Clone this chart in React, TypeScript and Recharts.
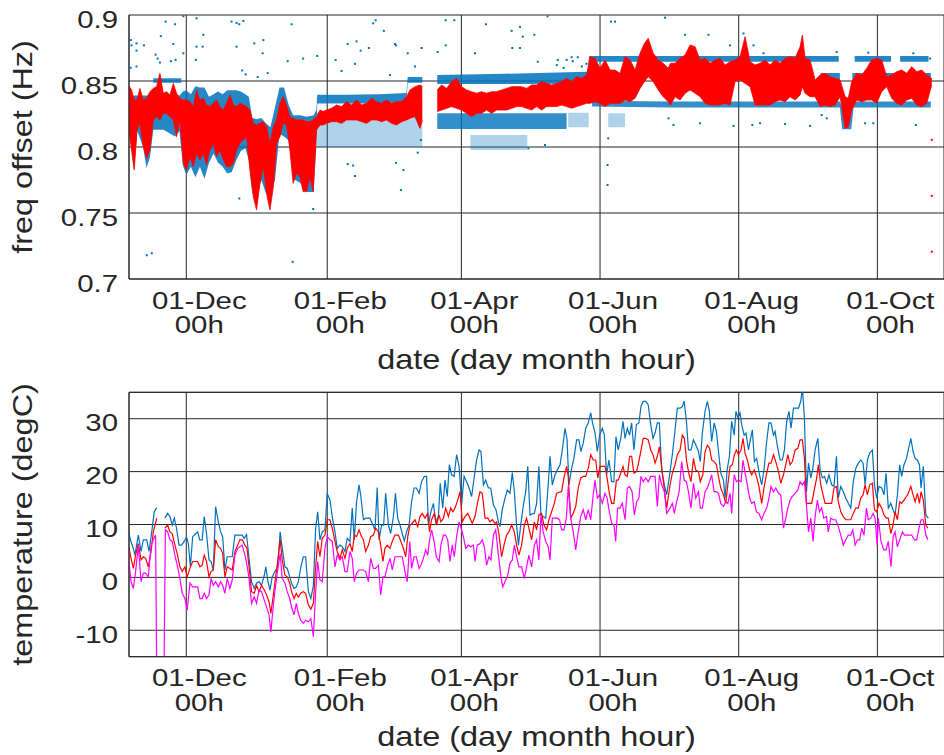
import React from 'react';
import { ComposedChart, Line, Area, Scatter, XAxis, YAxis, CartesianGrid, ReferenceLine } from 'recharts';

// x values are days counted from 01-Dec 00h
const monthTicks = [0, 62, 121, 182, 243, 304];
const monthLabels = ['01-Dec', '01-Feb', '01-Apr', '01-Jun', '01-Aug', '01-Oct'];
const hourLabel = '00h';
const dayDomain = [-25.2, 333.3];

const freqTicks = [0.7, 0.75, 0.8, 0.85, 0.9];
const freqTickLabels = ['0.7', '0.75', '0.8', '0.85', '0.9'];
const tempTicks = [-10, 0, 10, 20, 30];
const tempTickLabels = ['-10', '0', '10', '20', '30'];

type Row = [number, number | null, number | null];

// red: spread of the filtered frequency offset [day, low, high]
const redBand: Row[] = [
  [-25.5, 0.8179, 0.847], [-24.1, 0.7977, 0.8432], [-22.9, 0.7826, 0.8356], [-21.7, 0.8129, 0.8356],
  [-20.4, 0.8179, 0.8444], [-18.9, 0.8003, 0.8356], [-17.5, 0.7914, 0.8369], [-16.0, 0.7977, 0.8419],
  [-14.5, 0.8205, 0.8444], [-13.1, 0.823, 0.8457], [-11.6, 0.8205, 0.8558], [-10.1, 0.8255, 0.8407],
  [-8.7, 0.8255, 0.8419], [-7.2, 0.823, 0.8394], [-5.7, 0.8205, 0.8482], [-4.3, 0.8078, 0.8407],
  [-2.8, 0.8205, 0.8369], [-1.3, 0.7876, 0.8356], [0.1, 0.7826, 0.8356], [1.6, 0.7927, 0.8343],
  [3.1, 0.7851, 0.8306], [4.5, 0.7952, 0.8432], [6.0, 0.7902, 0.8356], [7.5, 0.7952, 0.8369],
  [8.9, 0.7864, 0.8318], [10.4, 0.7977, 0.8306], [11.9, 0.8028, 0.8331], [13.3, 0.7927, 0.8356],
  [14.8, 0.7977, 0.8306], [16.3, 0.7902, 0.828], [17.7, 0.7851, 0.8331], [19.2, 0.7851, 0.8394],
  [20.7, 0.7876, 0.8318], [22.1, 0.7977, 0.8306], [23.6, 0.8028, 0.8331], [25.1, 0.8053, 0.8318],
  [26.5, 0.8078, 0.8306], [28.0, 0.7826, 0.828], [29.5, 0.7624, 0.8179], [30.9, 0.7523, 0.8167],
  [32.4, 0.7725, 0.8179], [33.9, 0.7851, 0.8192], [35.3, 0.7649, 0.8154], [36.8, 0.7523, 0.8028],
  [38.3, 0.7699, 0.8154], [39.7, 0.8028, 0.8205], [41.2, 0.8078, 0.8331], [42.6, 0.8179, 0.8381],
  [44.1, 0.8167, 0.8318], [45.6, 0.7977, 0.823], [47.0, 0.7725, 0.8217], [48.5, 0.7801, 0.8205],
  [50.0, 0.7775, 0.8205], [51.4, 0.7662, 0.8205], [52.9, 0.7662, 0.8192], [54.4, 0.7775, 0.8192],
  [55.8, 0.7662, 0.8205], [57.3, 0.8129, 0.823], [58.8, 0.8167, 0.828], [60.2, 0.8167, 0.8268],
  [61.7, 0.8179, 0.828], [63.9, 0.8192, 0.8293], [66.1, 0.8192, 0.8318], [68.3, 0.8179, 0.8306],
  [70.5, 0.8205, 0.8343], [72.7, 0.8205, 0.8318], [74.9, 0.8205, 0.8356], [77.1, 0.8192, 0.8318],
  [79.3, 0.8179, 0.8331], [81.5, 0.8205, 0.8369], [83.7, 0.8205, 0.8343], [85.9, 0.8192, 0.8331],
  [88.1, 0.8205, 0.8356], [90.3, 0.8179, 0.8331], [92.5, 0.8167, 0.8343], [94.7, 0.8192, 0.8343],
  [96.9, 0.8205, 0.8381], [98.4, 0.8217, 0.8432], [100.6, 0.823, 0.8457], [102.8, 0.8141, 0.847],
  [103.8, 0.82, 0.846], [107, null, null],
  [110.4, 0.8268, 0.8432], [112.3, 0.828, 0.847], [114.5, 0.8293, 0.8444], [116.7, 0.8306, 0.8495],
  [118.9, 0.8293, 0.852], [121.1, 0.828, 0.8457], [123.3, 0.8255, 0.8432], [125.5, 0.823, 0.8419],
  [127.7, 0.8255, 0.8407], [129.9, 0.8255, 0.8419], [132.1, 0.828, 0.8407], [134.3, 0.8255, 0.8419],
  [136.5, 0.828, 0.8419], [138.7, 0.828, 0.8432], [140.9, 0.828, 0.8444], [143.1, 0.8293, 0.8457],
  [145.3, 0.8306, 0.8457], [147.5, 0.8306, 0.8457], [149.7, 0.8293, 0.8444], [151.9, 0.828, 0.847],
  [154.1, 0.8306, 0.847], [156.3, 0.828, 0.8495], [158.5, 0.8306, 0.8482], [160.7, 0.8306, 0.847],
  [162.9, 0.8306, 0.8482], [165.1, 0.8318, 0.8495], [167.3, 0.8306, 0.852], [169.5, 0.8293, 0.8495],
  [171.7, 0.8306, 0.8533], [173.9, 0.8318, 0.852], [176.1, 0.8331, 0.8545], [177.6, 0.8331, 0.8684],
  [179.8, 0.8343, 0.8672], [182.0, 0.8331, 0.8596], [184.2, 0.8306, 0.8659], [186.4, 0.8331, 0.8583],
  [188.6, 0.8331, 0.8583], [190.8, 0.8331, 0.8558], [193.0, 0.8356, 0.8684], [195.2, 0.8343, 0.8659],
  [197.4, 0.8369, 0.8583], [199.6, 0.8444, 0.871], [201.5, 0.8495, 0.8785], [203.2, 0.8533, 0.8823],
  [205.4, 0.8495, 0.871], [207.6, 0.8432, 0.8659], [209.8, 0.8381, 0.8634], [212.0, 0.8343, 0.8596],
  [213.0, 0.8318, 0.8634], [215.0, 0.8381, 0.8634], [217.2, 0.8356, 0.8672], [219.4, 0.8407, 0.8697],
  [221.6, 0.8432, 0.8773], [223.8, 0.8407, 0.876], [226.0, 0.8381, 0.8659], [228.2, 0.8331, 0.8672],
  [230.4, 0.8318, 0.8634], [232.6, 0.8318, 0.8659], [234.8, 0.8318, 0.8672], [237.0, 0.8331, 0.8621],
  [239.2, 0.8318, 0.8646], [241.4, 0.8495, 0.8659], [243.6, 0.8508, 0.8684], [245.8, 0.8482, 0.8836],
  [248.0, 0.8457, 0.8646], [250.2, 0.8318, 0.8621], [252.4, 0.8318, 0.8634], [254.6, 0.8318, 0.8659],
  [256.8, 0.8318, 0.8621], [259.0, 0.8343, 0.8659], [261.2, 0.8356, 0.8634], [263.4, 0.8343, 0.8672],
  [265.6, 0.8381, 0.8684], [267.8, 0.8356, 0.8672], [270.0, 0.8394, 0.876], [271.0, 0.8457, 0.8848],
  [272.2, 0.8407, 0.8672], [274.4, 0.8381, 0.8659], [276.6, 0.8381, 0.8508], [278.8, 0.8306, 0.8545],
  [281.0, 0.8318, 0.8558], [283.2, 0.8306, 0.8533], [285.4, 0.8318, 0.852], [287.6, 0.8381, 0.8508],
  [289.8, 0.8141, 0.8381], [291.2, 0.8154, 0.8369], [292.7, 0.828, 0.8495], [294.9, 0.8356, 0.8558],
  [297.1, 0.8343, 0.8545], [299.3, 0.8356, 0.8596], [301.5, 0.8356, 0.8659], [303.7, 0.8331, 0.8672],
  [305.9, 0.8419, 0.8659], [308.1, 0.8457, 0.8533], [310.3, 0.8369, 0.8545], [312.5, 0.8331, 0.8571],
  [314.7, 0.8318, 0.8583], [316.9, 0.8356, 0.8558], [319.1, 0.8369, 0.8609], [321.3, 0.8318, 0.8571],
  [323.5, 0.8306, 0.8583], [325.7, 0.8331, 0.8545], [327.9, 0.847, 0.852],
];

// blue: dense parts of the raw measurements [day, low, high]
const blueDense: Row[] = [
  [-25.5, 0.814, 0.839], [-24, 0.8, 0.839], [-23, 0.783, 0.839], [-21.5, 0.812, 0.839], [-19, 0.8, 0.839],
  [-17.5, 0.784, 0.839], [-16, 0.792, 0.839], [-14.5, 0.813, 0.84], [-10, 0.813, 0.839], [-5, 0.808, 0.839],
  [-3, 0.812, 0.839], [-1.5, 0.786, 0.842], [0, 0.779, 0.843], [2, 0.785, 0.84], [4, 0.777, 0.846],
  [6, 0.785, 0.845], [8, 0.776, 0.845], [10, 0.788, 0.838], [12, 0.795, 0.84], [14, 0.788, 0.842],
  [16, 0.785, 0.84], [18, 0.78, 0.843], [20, 0.781, 0.843], [22, 0.79, 0.843], [24, 0.797, 0.842],
  [26, 0.799, 0.84], [27.5, 0.79, 0.838], [29, 0.765, 0.822], [31, 0.762, 0.821], [33, 0.775, 0.822],
  [35, 0.765, 0.818], [37, 0.762, 0.815], [39, 0.775, 0.83], [41, 0.81, 0.845], [43, 0.808, 0.845],
  [45, 0.805, 0.832], [47, 0.776, 0.824], [50, 0.773, 0.824], [53, 0.766, 0.823], [56, 0.766, 0.824],
  [57.2, 0.8, 0.828], [57.6, 0.833, 0.8395], [70, 0.833, 0.8395], [85, 0.833, 0.84], [96.8, 0.834, 0.841],
  [97.4, 0.8487, 0.853], [103.8, 0.8487, 0.853], [107, null, null],
  [110.4, 0.8477, 0.8545], [140, 0.8477, 0.8555], [176.5, 0.848, 0.857], [177.2, 0.8646, 0.869],
  [212, 0.8646, 0.869], [287, 0.8646, 0.869], [290, null, null], [294, 0.8646, 0.869], [310, 0.8646, 0.869],
  [312, null, null], [314, 0.8646, 0.869], [326.5, 0.8646, 0.869],
];

const blueLowBand: Row[] = [
  [110.4, 0.8136, 0.8255], [167.3, 0.8136, 0.8255], [172, null, null],
  [178.5, 0.8306, 0.835], [213, 0.83, 0.8345], [287.5, 0.83, 0.8345], [288.5, 0.8135, 0.83],
  [292.5, 0.8135, 0.83], [293.5, 0.83, 0.8345], [327.5, 0.83, 0.8345],
];

const blueMidBand: Row[] = [
  [-14.5, 0.8487, 0.852], [-2.2, 0.8487, 0.852], [0, null, null],
  [279, 0.8495, 0.856], [287.5, 0.8495, 0.856], [290, null, null], [293, 0.8495, 0.856], [327.5, 0.8495, 0.856],
];

const blueCloud: Row[] = [
  [57.5, 0.8, 0.826], [92, 0.8, 0.828], [103.8, 0.8, 0.835], [107, null, null],
  [125, 0.7977, 0.809], [150, 0.7977, 0.809], [155, null, null],
  [168, 0.815, 0.826], [177, 0.815, 0.826], [180, null, null],
  [185.6, 0.815, 0.8255], [193, 0.815, 0.8255],
];

const blueOutliers: [number, number][] = [
  [-24.4, 0.881], [-24.1, 0.877], [-21.9, 0.8785], [-18.6, 0.877], [-21.9, 0.873], [-9.1, 0.895], [-5.0, 0.893],
  [-11.2, 0.884], [-5.7, 0.878], [-13.5, 0.87], [-12.6, 0.867], [-11.6, 0.864], [-6.8, 0.865], [-4.7, 0.866],
  [-1.3, 0.871], [-1.3, 0.899], [-24.5, 0.86], [-21.9, 0.861], [4.2, 0.866], [4.5, 0.876], [7.2, 0.876],
  [7.5, 0.885], [4.5, 0.8975], [19.9, 0.895], [22.1, 0.894], [23.3, 0.893], [25.1, 0.8955], [29.9, 0.8785],
  [33.9, 0.881], [33.6, 0.871], [22.1, 0.876], [24.6, 0.858], [26.1, 0.855], [31.4, 0.853], [35.8, 0.856],
  [44.6, 0.865], [46.3, 0.893], [51.4, 0.867], [57.6, 0.869], [65.7, 0.866], [68.3, 0.8576], [71.0, 0.878],
  [74.9, 0.88], [74.2, 0.863], [76.7, 0.873], [80.3, 0.875], [82.2, 0.8937], [83.3, 0.896], [86.9, 0.888],
  [91.8, 0.878], [89.6, 0.8545], [74.2, 0.778], [71.0, 0.787], [73.4, 0.786], [55.8, 0.753], [23.3, 0.761],
  [-17.4, 0.718], [-15.2, 0.7195], [46.8, 0.713],
  [92.2, 0.877], [97.4, 0.871], [100.6, 0.861], [103.5, 0.875], [110.6, 0.872], [114.1, 0.877], [114.1, 0.896],
  [117.9, 0.896], [127.0, 0.871], [131.8, 0.893], [143.1, 0.888], [146.8, 0.891], [148.0, 0.8836], [146.8, 0.875],
  [143.4, 0.875], [153.1, 0.885], [158.9, 0.899], [154.6, 0.8646], [163.4, 0.866], [167.3, 0.866], [169.5, 0.868],
  [172.2, 0.868], [163, 0.862], [166, 0.86], [170, 0.865], [174, 0.861], [176, 0.863], [186.8, 0.895],
  [188.6, 0.895], [185.6, 0.8066], [185.3, 0.7864], [185.3, 0.7712], [92.2, 0.788], [95.5, 0.7826],
  [94.4, 0.7674], [101.8, 0.7957], [103.2, 0.8053], [157.8, 0.8015], [150.5, 0.799],
  [210.6, 0.898], [219.4, 0.885], [229.7, 0.885], [239.2, 0.877], [245.1, 0.886], [249.5, 0.877], [253.9, 0.871],
  [286.1, 0.872], [300.0, 0.8715], [319.8, 0.871], [327.2, 0.867], [212.1, 0.8217], [214.3, 0.8167],
  [226.0, 0.818], [240.7, 0.816], [249.0, 0.8167], [252.4, 0.818], [263.4, 0.8174], [274.4, 0.816],
  [279.5, 0.8242], [281.7, 0.8217], [298.6, 0.818], [302.2, 0.818], [320.9, 0.8167],
];

const redStray: [number, number][] = [[327.9, 0.8055], [327.9, 0.763], [327.9, 0.7207]];

// daily temperatures [day, degC]
const tempMax: [number, number | null][] = [
  [-25.5, 9.6], [-24.8, 7.4], [-23.3, 5.5], [-22.6, 4.2], [-21.1, 8], [-19.9, 4.9], [-18.9, 7.1], [-17.4, 7.1],
  [-16.4, 4.9], [-15.2, 8.6], [-14.1, 12.4], [-13.0, 13.2], [-11, null], [-9.4, 11.2], [-8.2, 12.1], [-7.2, 11.5],
  [-6.2, 9.9], [-5.3, 11.2], [-4.3, 9.3], [-3.2, 6.1], [-2.1, 6.1], [-0.9, 6.8], [0.1, 7.7], [0.9, 6.4], [1.8, 2],
  [2.8, 7.7], [3.8, 8.1], [5.0, 8.6], [5.9, 7.1], [7.0, 7.1], [7.9, 11.5], [8.9, 8.3], [10.0, 3.3], [10.9, 3],
  [11.9, 1.4], [12.9, 13.4], [14.1, 10.5], [15.1, 8.6], [16.0, 7.7], [17.0, 1.4], [18.0, 3.9], [19.2, 3.9],
  [20.2, 3.9], [21.4, 8], [22.9, 8], [24.6, 8], [25.5, 7.4], [26.5, 8.1], [27.6, 3.6], [28.7, -0.8], [29.9, -2.1],
  [30.9, -1.1], [32.0, -0.8], [33.1, -1.5], [34.3, 0.4], [35.0, 2], [35.8, -0.5], [36.8, -2.4], [37.8, 0.1],
  [39.0, 1.1], [40.2, 2], [41.3, 8.6], [42.2, 5.5], [43.4, 2], [44.4, 1.7], [45.5, 0.1], [46.3, -1.1],
  [47.4, -2.1], [48.4, -1.8], [49.3, -0.8], [50.4, 2], [51.5, 3.9], [52.5, 3.9], [53.7, -2.7], [54.8, -4],
  [55.9, -1.5], [56.9, 9.3], [57.8, 12.4], [58.8, 7.1], [59.8, 8.6], [61.0, 9], [62.0, 15.9], [63.2, 14.6],
  [64.2, 11.5], [65.4, 8.6], [66.4, 5.5], [67.6, 6.1], [68.6, 5.8], [69.8, 4.9], [70.8, 7.4], [72.0, 6.8],
  [73.0, 13.1], [73.9, 7.1], [74.9, 14.3], [76.0, 17.5], [76.8, 15.3], [77.9, 10.9], [78.9, 11.2], [80.8, 11.2],
  [81.8, 10.2], [83.0, 9], [84.0, 17], [84.8, 7.1], [85.9, 9.9], [86.8, 9.9], [87.7, 15.9], [88.9, 9.9],
  [89.9, 8.3], [91.1, 11.5], [92.0, 15.9], [93.0, 11.2], [94.0, 9.9], [95.0, 8.3], [95.9, 6.9], [96.9, 8.6],
  [98.0, 9.9], [99.1, 14.3], [100.2, 16.9], [101.2, 16.9], [102.4, 15.9], [103.5, 18.1], [104.7, 19.1],
  [105.7, 19.1], [106.5, 9.9], [107.6, 12.4], [108.7, 14], [109.7, 10.5], [110.9, 11.5], [111.7, 17.8],
  [112.8, 13.1], [113.8, 18.4], [114.8, 15.3], [115.7, 21.3], [116.7, 19.4], [117.8, 19.1], [118.9, 23.2],
  [120.0, 21], [121.1, 13.7], [122.2, 19.1], [123.3, 18.1], [124.4, 16.9], [125.5, 15.3], [126.6, 18.8],
  [127.7, 22.2], [128.8, 24.1], [129.6, 23.8], [130.7, 17.5], [131.7, 18.4], [132.9, 16.9], [133.9, 16.9],
  [135.1, 13.7], [136.2, 12.8], [137.3, 10.5], [138.0, 9.6], [139.0, 12.8], [140.2, 15], [141.2, 16.5],
  [142.4, 15.9], [143.4, 19.8], [144.3, 16.2], [145.3, 9.9], [146.1, 6.1], [147.2, 10.2], [148.3, 13.7],
  [149.3, 16.2], [150.2, 21], [151.2, 11.8], [152.2, 12], [153.1, 12.1], [154.1, 14], [155.1, 21], [156.0, 11.8],
  [157.0, 11.5], [158.1, 11.2], [159.2, 17.5], [160.0, 22.9], [161.0, 17.5], [162.2, 19.4], [163.2, 20.3],
  [164.4, 21.3], [165.4, 24.1], [166.6, 28.2], [167.5, 26], [168.3, 17.5], [169.5, 20.6], [170.5, 22.5],
  [171.7, 26], [172.7, 26], [173.6, 23.8], [174.6, 25.4], [175.7, 28.2], [176.8, 29.2], [177.9, 31.1],
  [178.7, 29.2], [179.8, 27.3], [180.8, 23.8], [181.8, 26.9], [183.0, 28.2], [183.9, 26.9], [184.9, 19.4],
  [185.9, 22.2], [187.1, 18.1], [188.1, 18.1], [189.0, 26.6], [190.0, 24.1], [191.1, 26.3], [192.1, 29.5],
  [193.0, 26.3], [194.0, 28.2], [195.0, 26.9], [195.9, 29.2], [196.9, 24.1], [198.0, 28.9], [199.1, 29.2],
  [200.0, 32.3], [201.0, 33.3], [202.1, 33.3], [203.2, 32.6], [204.3, 28.9], [205.3, 26.3], [206.2, 27.3],
  [207.2, 29.2], [208.1, 29.2], [209.1, 20.3], [210.3, 17.5], [211.3, 15.6], [212.8, 20], [213.8, 23.2],
  [215.0, 27.9], [216.0, 32], [217.2, 32], [218.2, 32.3], [219.0, 33.3], [220.0, 29.5], [220.9, 24.1],
  [222.0, 24.1], [223.1, 26], [224.2, 25], [225.3, 23.8], [226.1, 21.9], [227.0, 27.3], [228.2, 31.4],
  [229.2, 33.3], [230.1, 31.4], [231.1, 25.7], [232.2, 29.2], [233.2, 27.6], [234.1, 23.8], [235.1, 19.7],
  [236.3, 18.4], [237.0, 15], [237.9, 20.3], [238.9, 22.9], [239.9, 29.5], [241.0, 26.9], [241.8, 31.4],
  [242.6, 30.2], [243.6, 31.1], [244.3, 28.9], [245.4, 26.9], [246.2, 27.3], [247.3, 24.1], [248.1, 26],
  [249.0, 27.9], [249.9, 21.9], [250.9, 22.5], [252.0, 19.7], [253.1, 17.5], [254.2, 20.6], [255.3, 25.7],
  [256.3, 29.2], [257.2, 29.2], [258.3, 26.9], [259.0, 27.6], [260.0, 24.8], [261.2, 22.2], [262.2, 22.2],
  [263.1, 24.1], [264.1, 29.5], [265.1, 31.4], [266.0, 28.2], [267.1, 32], [268.1, 32], [269.3, 32],
  [270.3, 33.3], [271.0, 35.8], [271.9, 30.2], [272.8, 16.2], [273.7, 21.6], [274.7, 18.8], [275.6, 20.6],
  [276.6, 24.1], [277.8, 26.3], [278.8, 20.3], [279.8, 18.8], [280.7, 19.1], [281.7, 17.8], [282.7, 19.4],
  [283.9, 17.5], [284.9, 17.2], [286.0, 22.9], [286.8, 15], [287.9, 17.2], [289.0, 16.2], [290.1, 15],
  [291.2, 14], [292.3, 13.1], [293.4, 18.1], [294.5, 20.6], [295.6, 21.6], [296.7, 22.2], [297.7, 21.6],
  [298.6, 17.5], [299.6, 22.2], [300.6, 23.5], [301.8, 24.1], [302.7, 17.5], [303.7, 15], [304.7, 17.2],
  [305.9, 16.9], [306.9, 15.6], [307.8, 19.7], [308.8, 13.1], [309.9, 14], [310.9, 12.8], [311.8, 11.8],
  [312.8, 15.6], [313.8, 21.3], [314.7, 19.1], [315.7, 21.3], [316.8, 22.5], [317.6, 24.1], [318.7, 26.3],
  [319.7, 23.8], [320.6, 22.5], [321.6, 22.2], [322.5, 21.3], [323.2, 16.9], [324.2, 21], [325.3, 11.8],
  [326.4, 11.2],
];

const tempMean: [number, number | null][] = [
  [-25.5, 6.1], [-24.3, 3.6], [-23.3, 1.7], [-22.3, 4.2], [-21.1, 6.4], [-19.9, 3.3], [-18.9, 3.9], [-17.9, 3.6],
  [-16.7, 2], [-15.5, 4.9], [-14.5, 8.6], [-13.0, 11.2], [-11, null], [-9.4, 9.3], [-8.2, 9.9], [-7.2, 8.6],
  [-6.2, 8.3], [-5.0, 6.1], [-4.0, 4.5], [-2.8, 2], [-1.8, 1.1], [-0.6, 2], [0.4, 0.1], [1.6, 1.7], [2.8, 3],
  [3.8, 3], [5.0, 3], [6.0, 2], [7.0, 2.3], [7.9, 4.2], [8.9, 3], [10.0, 0.1], [10.9, 1.1], [11.9, 1.4],
  [12.9, 7.1], [14.1, 5.8], [15.1, 5.5], [16.0, 4.5], [17.0, 0.1], [18.0, 2], [19.2, 1.7], [20.2, 1.4],
  [21.4, 4.9], [22.6, 6.1], [23.6, 7.1], [24.6, 7.1], [25.8, 6.1], [26.7, 5.5], [27.6, 2], [28.7, -2.7],
  [29.9, -3], [30.9, -1.5], [32.0, -2.7], [33.1, -1.5], [34.3, -2.4], [35.3, -3.3], [36.4, -4.6], [37.2, -6.8],
  [38.3, -3.3], [39.3, 0.1], [40.2, 3], [41.3, 7.1], [42.2, 3.3], [43.4, 0.4], [44.4, 0.1], [45.5, -1.1],
  [46.3, -2.7], [47.4, -4], [48.4, -3], [49.3, -3.7], [50.3, -3], [51.5, -2.7], [52.5, -3], [53.7, -5.2],
  [54.8, -6], [55.9, -4.9], [56.9, 2], [57.8, 6.8], [58.8, 3.9], [59.8, 7.4], [61.0, 8], [62.0, 10.9],
  [63.2, 10.9], [64.2, 9.3], [65.4, 6.8], [66.4, 4.9], [67.6, 3.6], [68.6, 5.2], [69.8, 3.6], [70.8, 5.5],
  [72.0, 6.4], [73.0, 4.9], [73.9, 8], [74.9, 7.7], [76.0, 9], [76.8, 8], [77.9, 7.1], [78.9, 4.9], [80.1, 6.1],
  [81.1, 7.7], [82.3, 8], [83.3, 9.3], [84.5, 8.6], [85.5, 6.1], [86.5, 3], [87.4, 5.5], [88.4, 6.1],
  [89.6, 5.5], [90.6, 6.8], [91.8, 8], [93.3, 8], [94.4, 6.8], [95.5, 5.5], [96.5, 3.9], [97.4, 7.7],
  [98.4, 9.9], [99.4, 10.2], [100.6, 10.9], [101.8, 9.6], [102.8, 11.5], [103.8, 12.1], [105.0, 11.2],
  [106.2, 12.1], [107.0, 8.6], [107.9, 10.9], [109.1, 12.1], [110.1, 9.9], [111.2, 11.8], [112.0, 10.5],
  [113.1, 11.2], [114.1, 13.1], [115.3, 11.5], [116.3, 13.1], [117.3, 12.4], [118.2, 13.1], [119.4, 14.6],
  [120.4, 16.2], [121.4, 10.5], [122.6, 11.5], [123.8, 12.1], [124.8, 11.2], [125.8, 10.2], [127.0, 11.5],
  [128.2, 14.3], [129.2, 16.2], [130.2, 15.9], [131.4, 11.2], [132.6, 11.2], [133.6, 10.5], [134.6, 10.9],
  [135.8, 10.2], [136.5, 10.5], [137.5, 8.3], [138.7, 3.9], [139.9, 6.4], [140.9, 8], [141.9, 8.6],
  [143.1, 9.9], [144.3, 8.6], [145.3, 6.1], [146.3, 4.2], [147.5, 6.1], [148.7, 9.9], [149.7, 11.2],
  [150.7, 9.3], [151.9, 7.1], [153.1, 10.5], [154.1, 9], [155.1, 11.8], [156.3, 12.1], [157.3, 9.9],
  [158.5, 9], [159.5, 10.9], [160.7, 12.4], [161.9, 14], [162.9, 15.9], [163.9, 16.1], [165.1, 16.2],
  [166.1, 18.8], [167.3, 21], [168.0, 19.1], [169.1, 11.2], [170.2, 12.1], [171.3, 13.4], [172.4, 16.9],
  [173.5, 18.8], [174.6, 19.1], [175.7, 19.1], [176.8, 20.6], [177.9, 23.2], [179.0, 22.2], [180.1, 22.2],
  [181.0, 18.8], [182.0, 21], [183.0, 21], [184.2, 21], [185.1, 18.8], [186.1, 15.9], [187.1, 14], [188.1, 14],
  [189.2, 18.4], [190.0, 18.4], [191.1, 19.7], [192.1, 21], [193.0, 19.4], [194.0, 19.1], [195.0, 22.9],
  [195.9, 22.9], [196.9, 19.7], [198.0, 20], [198.8, 21.3], [199.9, 23.8], [201.0, 26.3], [202.1, 26.3],
  [203.2, 26], [204.3, 24.1], [205.3, 23.2], [206.2, 21.6], [207.2, 22.9], [208.1, 24.7], [209.1, 21],
  [210.3, 16.5], [211.3, 13.1], [212.8, 17.5], [213.8, 19.7], [215.0, 21.3], [216.0, 23.2], [217.2, 24.1],
  [218.2, 26.9], [219.1, 26.3], [220.1, 21.9], [221.2, 19.4], [222.0, 18.1], [223.1, 22.5], [224.1, 20.3],
  [225.3, 20], [226.1, 18.1], [227.2, 19.4], [228.2, 23.8], [229.2, 25], [230.2, 24.4], [231.1, 22.2],
  [232.2, 21.9], [233.2, 21.3], [234.1, 19.1], [235.1, 16.9], [236.3, 15.6], [237.3, 14], [238.2, 17.5],
  [239.2, 21], [240.2, 21.3], [241.1, 23.2], [242.0, 24.1], [242.9, 23.2], [244.0, 24.1], [244.9, 26.3],
  [245.8, 23.5], [246.8, 22.2], [247.8, 20.3], [248.7, 19.4], [249.8, 20.3], [250.8, 19.1], [251.9, 17.2],
  [253.1, 14], [254.1, 16.9], [255.3, 19.7], [256.3, 21.6], [257.2, 21.6], [258.3, 23.2], [259.3, 21.9],
  [260.5, 20], [261.5, 17.8], [262.7, 19.4], [263.7, 21.3], [264.6, 23.2], [265.6, 21.3], [266.6, 21.9],
  [267.8, 24.1], [269.0, 24.4], [270.0, 26], [271.0, 26], [271.9, 22.5], [272.8, 14], [274.0, 14], [275.1, 14],
  [276.1, 16.2], [277.3, 18.8], [278.0, 21.3], [279.1, 17.5], [280.1, 15.6], [281.0, 14], [282.0, 14],
  [283.0, 14], [283.9, 14], [284.9, 16.9], [286.0, 17.2], [286.8, 14.3], [287.9, 12.4], [289.0, 11.5],
  [290.1, 10.9], [291.2, 10.9], [292.3, 10.9], [293.4, 12.1], [294.5, 13.1], [295.6, 13.1], [296.7, 15],
  [297.7, 15.6], [298.6, 17.5], [299.6, 15.6], [300.6, 17.5], [301.8, 17.8], [302.7, 12.8], [303.7, 12.4],
  [304.7, 14], [305.9, 13.1], [306.9, 11.8], [308.0, 11.2], [308.8, 11.2], [309.9, 8.3], [310.9, 9.9],
  [311.8, 12.4], [312.8, 10.9], [313.8, 14.3], [314.7, 14], [315.7, 14.6], [316.8, 15.3], [317.6, 15.9],
  [318.7, 17.2], [319.7, 15.6], [320.6, 14.3], [321.6, 15.9], [322.5, 14], [323.2, 16.2], [324.2, 14.6],
  [325.3, 9.9], [326.2, 9.3],
];

const tempMin: [number, number | null][] = [
  [-25.5, 3.9], [-24.3, -0.8], [-23.3, -2.1], [-22.3, 1.1], [-21.1, 6.1], [-19.9, -0.8], [-18.9, 0.8],
  [-17.9, 0.8], [-16.7, 0.1], [-15.5, 6.1], [-14.5, 7.1], [-13.5, 8], [-12.6, -40], [-11.5, -40], [-10.3, -40],
  [-9.2, 9], [-8.2, 8.6], [-7.2, 7.1], [-6.2, 6.8], [-5.0, 4.2], [-4.0, 2.3], [-2.8, -0.2], [-1.8, -3],
  [-0.6, -4], [0.4, -6.2], [1.6, -1.1], [2.8, -1.8], [3.8, -1.8], [5.0, -1.8], [6.0, -4], [7.0, -4], [7.9, -3],
  [8.9, -4], [10.0, -3.3], [10.9, -0.2], [11.9, -1.5], [12.9, -0.8], [14.1, -1.8], [15.1, -0.8], [16.0, -1.5],
  [17.0, -3], [18.0, -0.2], [19.2, -2.1], [20.2, -0.5], [21.4, 4.2], [22.6, 5.5], [23.6, 5.8], [24.6, 6.1],
  [25.8, 4.2], [26.7, 2.3], [27.6, -0.2], [28.7, -4.9], [29.9, -3.7], [30.9, -4.9], [32.0, -2.4], [33.1, -2.7],
  [34.3, -4.3], [35.3, -5.6], [36.4, -7.1], [37.2, -10.3], [38.3, -5.2], [39.3, -1.5], [40.2, 1.4], [41.3, 4.5],
  [42.2, -0.2], [43.4, -1.1], [44.4, -2.7], [45.5, -4], [46.3, -5.6], [47.4, -7.1], [48.4, -4.9], [49.3, -6.8],
  [50.3, -8.1], [51.5, -8.7], [52.5, -8.1], [53.7, -8.4], [54.8, -7.8], [55.9, -11.2], [56.9, -2.7], [57.8, 3],
  [58.8, -0.5], [59.8, -0.8], [61.0, 5.5], [62.0, 7.7], [63.2, 7.1], [64.2, 6.8], [65.4, 2], [66.4, 4.2],
  [67.6, 3.3], [68.6, 3.9], [69.8, 1.1], [70.8, 1.1], [72.0, 4.9], [73.0, 3.6], [73.9, -0.8], [74.9, 0.8],
  [76.0, 1.4], [76.8, 1.4], [77.9, 1.4], [78.9, 1.1], [80.1, -0.8], [81.1, 3.6], [82.3, 1.7], [83.3, 1.7],
  [84.5, 2.3], [85.5, -3.3], [86.5, 0.1], [87.4, 0.1], [88.4, 2], [89.6, 3.6], [90.6, 1.4], [91.8, 3.9],
  [93.0, 3.9], [94.0, 3.9], [95.0, 3.9], [96.2, 1.1], [97.2, -0.8], [98.3, 6.8], [99.1, 1.7], [100.2, 3.9],
  [101.2, 3.9], [102.4, 1.7], [103.2, 2.3], [104.3, 3.6], [105.3, 5.2], [106.2, 4.2], [107.0, 7.1], [107.9, 9],
  [109.0, 6.8], [110.0, 3.9], [111.2, 3], [112.0, 6.1], [113.1, 8], [114.1, 8], [115.0, 7.1], [116.0, 3],
  [117.0, 6.1], [117.9, 3.9], [118.9, 7.7], [120.0, 10.5], [121.1, 9], [121.9, 7.7], [122.9, 5.5], [124.1, 6.1],
  [125.1, 5.8], [126.3, 6.1], [127.0, 3], [128.0, 6.1], [129.2, 6.4], [130.2, 7.1], [131.1, 5.8], [132.1, 2.3],
  [133.1, 3.9], [134.0, 3.3], [135.1, 8], [136.1, 9], [137.3, 4.2], [138.4, 0.1], [139.2, -1.8], [140.2, -0.8],
  [141.4, 0.4], [142.4, 2.7], [143.4, 3.3], [144.3, 6.1], [145.3, 3.9], [146.3, 2], [147.5, 2], [148.7, -0.2],
  [149.7, 2], [150.7, 4.2], [151.9, 2], [153.1, 6.1], [154.1, 7.1], [155.1, 3.3], [156.0, 11.8], [157.0, 8.6],
  [158.1, 6.8], [159.2, 5.8], [160.0, 3.3], [161.0, 11.2], [162.2, 11.2], [163.2, 11.2], [164.2, 10.9],
  [165.1, 9], [166.1, 9], [167.2, 11.2], [168.0, 17.2], [169.1, 11.2], [170.2, 8.6], [171.3, 5.2], [172.4, 8.6],
  [173.5, 11.5], [174.6, 12.8], [175.7, 10.9], [176.8, 12.8], [177.9, 10.9], [178.9, 15.3], [179.8, 18.4],
  [180.8, 15], [181.8, 15.6], [183.0, 14], [184.2, 15.9], [185.1, 15], [186.1, 12.4], [187.1, 10.2],
  [188.1, 9.9], [188.9, 6.8], [189.7, 13.1], [190.8, 13.1], [191.8, 14], [193.0, 10.9], [194.0, 16.9],
  [195.0, 17.2], [196.1, 16.2], [197.1, 11.8], [198.1, 14.3], [199.1, 15], [200.0, 19.1], [201.0, 18.1],
  [202.1, 18.8], [203.2, 18.1], [204.3, 19.1], [205.3, 19.1], [206.2, 19.1], [207.2, 13.4], [208.1, 19.4],
  [209.1, 17.5], [210.3, 16.2], [211.3, 12.1], [212.8, 13.1], [213.8, 14], [214.7, 12.1], [215.7, 14.3],
  [216.8, 16.2], [217.9, 21.9], [219.0, 18.4], [220.0, 18.1], [220.9, 16.2], [222.0, 13.1], [223.1, 17.8],
  [224.1, 15], [225.3, 16.2], [226.1, 13.1], [227.0, 13.1], [228.2, 16.2], [229.2, 16.9], [230.2, 18.1],
  [231.1, 19.4], [232.2, 16.2], [233.2, 16.2], [234.1, 15.9], [235.1, 14], [236.3, 13.4], [237.3, 14.3],
  [238.2, 14], [239.2, 15.9], [239.9, 12.1], [241.0, 19.4], [242.0, 18.1], [242.9, 18.4], [244.0, 18.1],
  [244.9, 22.2], [245.8, 19.7], [246.8, 17.5], [247.8, 15], [248.7, 14], [249.8, 14.3], [250.8, 12.4],
  [251.9, 12.1], [253.1, 10.9], [254.1, 12.1], [255.3, 13.1], [256.3, 15], [257.2, 17.2], [258.3, 16.2],
  [259.3, 16.9], [260.5, 15.9], [261.5, 15.6], [262.7, 9.3], [263.7, 11.2], [264.6, 13.1], [265.6, 14.6],
  [266.6, 15.3], [267.8, 15.9], [269.0, 16.5], [270.0, 18.1], [271.0, 17.5], [271.9, 18.1], [272.8, 13.7],
  [273.7, 8.6], [274.7, 11.2], [275.7, 6.8], [276.6, 11.5], [277.6, 14.6], [278.5, 12.4], [279.5, 13.1],
  [280.4, 11.2], [281.6, 11.5], [282.4, 8.6], [283.5, 11.2], [284.6, 10.9], [285.7, 10.9], [286.8, 9.6],
  [287.9, 8], [289.0, 6.1], [290.1, 7.1], [291.2, 8], [292.3, 8], [293.2, 9], [294.2, 6.1], [295.2, 7.1],
  [296.2, 7.1], [297.1, 9.3], [298.1, 8], [299.2, 13.1], [300.0, 10.9], [301.1, 11.2], [302.1, 12.1],
  [303.0, 11.2], [303.9, 6.1], [304.4, 11.2], [305.6, 6.8], [306.8, 5.2], [307.8, 5.2], [308.8, 6.8],
  [310.0, 2], [310.9, 7.7], [311.8, 8.6], [312.8, 5.8], [313.8, 7.1], [315.0, 8.6], [315.9, 8], [316.9, 8],
  [317.9, 8], [319.1, 8], [320.3, 7.1], [321.3, 7.1], [322.3, 9.3], [323.2, 10.9], [324.2, 10.9], [325.3, 8],
  [326.2, 7.1],
];

const toRange = (rows: Row[]) => rows.map(([d, lo, hi]) => ({ d, r: lo == null ? null : [lo, hi] }));
const toPoints = (rows: [number, number | null][]) => rows.map(([d, v]) => ({ d, v }));

const FONT = '"Liberation Sans", Arial, Helvetica, sans-serif';
const INK = '#262626';
const STRETCH = 1.2;
const BLUE = '#0072BD';

function StretchText({ x, y, size, anchor = 'middle', vertical = false, children }: any) {
  const t = `translate(${x},${y})${vertical ? ' rotate(-90)' : ''} scale(${STRETCH},1)`;
  return (
    <text transform={t} textAnchor={anchor} fontSize={size} fontFamily={FONT} fill={INK}>
      {children}
    </text>
  );
}

const DateTick = ({ x, y, payload }: any) => {
  const i = monthTicks.indexOf(payload.value);
  return (
    <g>
      <StretchText x={x + 13} y={y + 29.5} size={24.5}>{monthLabels[i]}</StretchText>
      <StretchText x={x + 13} y={y + 54} size={24.5}>{hourLabel}</StretchText>
    </g>
  );
};

const valueTick = (ticks: number[], labels: string[]) => ({ x, y, payload }: any) => {
  const i = ticks.indexOf(payload.value);
  return <StretchText x={x - 11} y={y + 12.5} size={24.5} anchor="end">{labels[i]}</StretchText>;
};

const xTitle = (text: string) => (props: any) => {
  const vb = props.viewBox;
  return <StretchText x={vb.x + vb.width / 2} y={vb.y + 89.5} size={27}>{text}</StretchText>;
};

const yTitle = (text: string) => (props: any) => {
  const vb = props.viewBox;
  return <StretchText x={vb.x + 32} y={vb.y + vb.height / 2} size={27} vertical>{text}</StretchText>;
};

const dot = (color: string) => (p: any) => <rect x={p.cx - 1} y={p.cy - 1} width={2} height={2} fill={color} />;

const dateAxis = (
  <XAxis
    type="number"
    dataKey="d"
    domain={dayDomain}
    allowDataOverflow
    ticks={monthTicks}
    interval={0}
    tick={<DateTick />}
    tickLine={false}
    tickSize={0}
    tickMargin={0}
    height={60}
    axisLine={{ stroke: INK }}
    label={xTitle('date (day month hour)')}
  />
);

function FreqChart() {
  return (
    <ComposedChart width={944} height={380} margin={{ top: 15, right: 0, bottom: 41, left: 0 }}>
      <CartesianGrid stroke={INK} />
      {dateAxis}
      <YAxis
        type="number"
        dataKey="v"
        domain={[0.7, 0.9]}
        allowDataOverflow
        ticks={freqTicks}
        interval={0}
        tick={valueTick(freqTicks, freqTickLabels)}
        tickLine={false}
        tickSize={0}
        tickMargin={0}
        width={129}
        axisLine={{ stroke: INK }}
        label={yTitle('freq offset (Hz)')}
      />
      <Area data={toRange(blueCloud)} dataKey="r" type="linear" stroke="none" fill={BLUE} fillOpacity={0.32} isAnimationActive={false} dot={false} activeDot={false} />
      <Area data={toRange(blueDense)} dataKey="r" type="linear" stroke="none" fill={BLUE} fillOpacity={0.85} isAnimationActive={false} dot={false} activeDot={false} />
      <Area data={toRange(blueLowBand)} dataKey="r" type="linear" stroke="none" fill={BLUE} fillOpacity={0.8} isAnimationActive={false} dot={false} activeDot={false} />
      <Area data={toRange(blueMidBand)} dataKey="r" type="linear" stroke="none" fill={BLUE} fillOpacity={0.85} isAnimationActive={false} dot={false} activeDot={false} />
      <Area data={toRange(redBand)} dataKey="r" type="linear" stroke="#FF0000" strokeWidth={0.8} fill="#FF0000" fillOpacity={1} isAnimationActive={false} dot={false} activeDot={false} />
      <Scatter data={toPoints(blueOutliers)} dataKey="v" shape={dot(BLUE)} isAnimationActive={false} />
      <Scatter data={toPoints(redStray)} dataKey="v" shape={dot('#FF0000')} isAnimationActive={false} />
    </ComposedChart>
  );
}

function TempChart() {
  return (
    <ComposedChart width={944} height={378} margin={{ top: 15.3, right: 0, bottom: 38.3, left: 0 }}>
      <CartesianGrid stroke={INK} />
      {dateAxis}
      <YAxis
        type="number"
        dataKey="v"
        domain={[-15, 35]}
        allowDataOverflow
        ticks={tempTicks}
        interval={0}
        tick={valueTick(tempTicks, tempTickLabels)}
        tickLine={false}
        tickSize={0}
        tickMargin={0}
        width={129}
        axisLine={{ stroke: INK }}
        label={yTitle('temperature (degC)')}
      />
      <ReferenceLine y={35} stroke={INK} />
      <Line data={toPoints(tempMax)} dataKey="v" type="linear" stroke={BLUE} strokeWidth={1.2} dot={false} activeDot={false} isAnimationActive={false} />
      <Line data={toPoints(tempMean)} dataKey="v" type="linear" stroke="#FF0000" strokeWidth={1.2} dot={false} activeDot={false} isAnimationActive={false} />
      <Line data={toPoints(tempMin)} dataKey="v" type="linear" stroke="#FF00FF" strokeWidth={1.2} dot={false} activeDot={false} isAnimationActive={false} />
    </ComposedChart>
  );
}

export default function App() {
  return (
    <div style={{ position: 'absolute', left: 0, top: 0, width: 944, height: 755, background: '#fff', overflow: 'hidden' }}>
      <div style={{ position: 'absolute', left: 0, top: 0 }}>
        <FreqChart />
      </div>
      <div style={{ position: 'absolute', left: 0, top: 377 }}>
        <TempChart />
      </div>
    </div>
  );
}
